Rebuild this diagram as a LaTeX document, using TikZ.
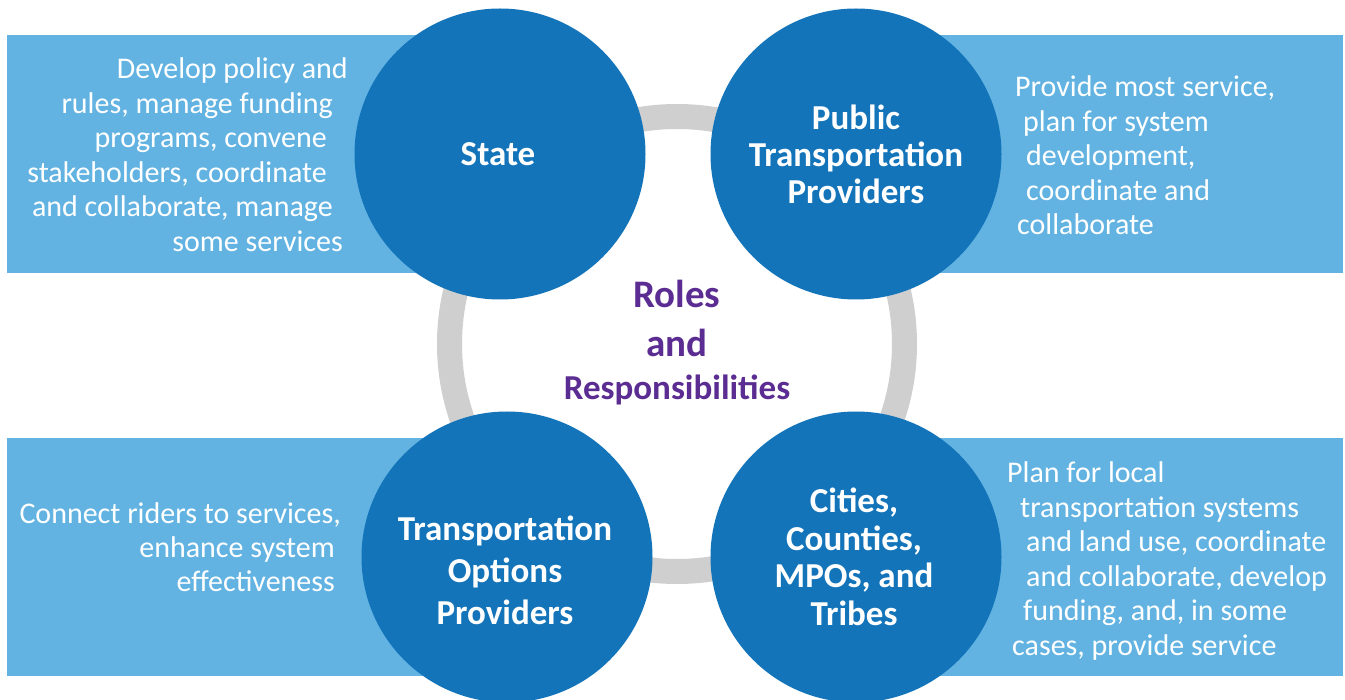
\documentclass[tikz,border=0pt]{standalone}
\usepackage{fontspec}
\setmainfont{Carlito}
\definecolor{dblue}{HTML}{1374BA}
\definecolor{lblue}{HTML}{62B3E2}
\definecolor{rgray}{HTML}{CFCFCF}
\definecolor{rpurple}{HTML}{5B2C91}
\begin{document}
\begin{tikzpicture}[x=1pt,y=-1pt,
  panel/.style={fill=lblue,draw=none,inner sep=0pt,anchor=north west,minimum height=238pt},
  role/.style={circle,fill=dblue,draw=none,inner sep=0pt,minimum size=291pt},
  ring/.style={draw=rgray,line width=25pt},
  body/.style={text=white,inner sep=0pt,font=\fontsize{30}{34.5}\selectfont},
  rtitle/.style={text=white,inner sep=0pt,anchor=base,font=\fontsize{35}{36.8}\selectfont\bfseries},
  ctitle/.style={text=rpurple,inner sep=0pt,anchor=base,font=\fontsize{39}{49}\selectfont\bfseries}]
\useasboundingbox (0,0) rectangle (1345,700);
\fill[white] (0,0) rectangle (1345,700);
% ring
\coordinate (rc) at (677,344);
\draw[ring] (rc) circle (227.5);
% panels
\node[panel,minimum width=473pt] (tlbox) at (7,35) {};
\node[panel,minimum width=487pt] (trbox) at (856,35) {};
\node[panel,minimum width=473pt] (blbox) at (7,438) {};
\node[panel,minimum width=487pt] (brbox) at (856,438) {};
% circles
\node[role] (state) at (500,154) {};
\node[role] (ptp) at (856,154) {};
\node[role] (top) at (507,557) {};
\node[role] (cities) at (856,557) {};
% circle titles
\node[rtitle] (statet) at (498,166) {State};
\node[rtitle] (ptpt) at (856,130) {\begin{tabular}[t]{@{}c@{}}Public\\Transportation\\Providers\end{tabular}};
\node[rtitle,font=\fontsize{35}{42.5}\selectfont\bfseries] (topt) at (505,540) {\begin{tabular}[t]{@{}c@{}}Transportation\\Options\\Providers\end{tabular}};
\node[rtitle,font=\fontsize{35}{37.4}\selectfont\bfseries] (citiest) at (854,513) {\begin{tabular}[t]{@{}c@{}}Cities,\\Counties,\\MPOs, and\\Tribes\end{tabular}};
% centre title
\node[ctitle] (title) at (677,308) {\begin{tabular}[t]{@{}c@{}}Roles\\and\\[-6pt]{\fontsize{35}{42}\selectfont Responsibilities}\end{tabular}};
% body texts
\node[body,anchor=base east] (tltext) at (348,79) {\begin{tabular}[t]{@{}r@{}}Develop policy and\\
rules, manage funding\hspace*{15pt}\\
programs, convene\hspace*{21pt}\\
stakeholders, coordinate\hspace*{21pt}\\
and collaborate, manage\hspace*{15pt}\\
some services\hspace*{5pt}\end{tabular}};
\node[body,anchor=base west] (trtext) at (1015,97) {\begin{tabular}[t]{@{}l@{}}Provide most service,\\
\hspace*{8pt}plan for system\\
\hspace*{11pt}development,\\
\hspace*{11pt}coordinate and\\
\hspace*{2pt}collaborate\end{tabular}};
\node[body,anchor=base east] (bltext) at (341,523) {\begin{tabular}[t]{@{}r@{}}Connect riders to services,\\
enhance system\hspace*{6pt}\\
effectiveness\hspace*{6pt}\end{tabular}};
\node[body,anchor=base west] (brtext) at (1007,483) {\begin{tabular}[t]{@{}l@{}}Plan for local\\
\hspace*{13pt}transportation systems\\
\hspace*{19pt}and land use, coordinate\\
\hspace*{19pt}and collaborate, develop\\
\hspace*{16pt}funding, and, in some\\
\hspace*{5pt}cases, provide service\end{tabular}};
\end{tikzpicture}
\end{document}
